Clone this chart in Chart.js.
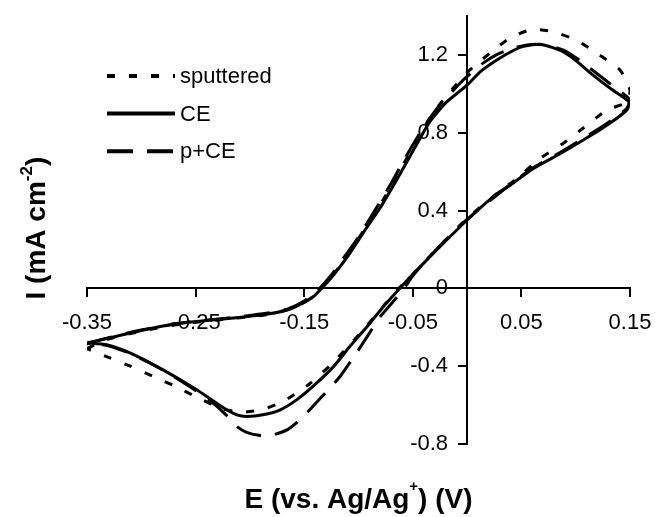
<!DOCTYPE html>
<html><head><meta charset="utf-8">
<script src="https://cdn.jsdelivr.net/npm/chart.js@4"></script>
<style>html,body{margin:0;padding:0;background:#fff}canvas{display:block}</style>
</head><body>
<canvas id="c" width="655" height="517"></canvas>
<script>
const seriesNames = ['sputtered', 'CE', 'p+CE'];

const sputteredE = [-0.350,-0.335,-0.300,-0.260,-0.220,-0.185,-0.160,-0.145,-0.135,-0.122,-0.108,-0.094,-0.080,-0.065,-0.050,-0.034,-0.019,0.000,0.021,0.040,0.060,0.079,0.101,0.122,0.141,0.150,0.148,0.129,0.107,0.089,0.067,0.046,0.030,0.000,-0.031,-0.052,-0.063,-0.077,-0.092,-0.108,-0.125,-0.145,-0.169,-0.189,-0.205,-0.225,-0.250,-0.270,-0.290,-0.310,-0.329,-0.350];
const sputteredI = [-0.310,-0.268,-0.220,-0.180,-0.157,-0.135,-0.100,-0.055,0.000,0.080,0.185,0.310,0.430,0.575,0.725,0.880,0.990,1.110,1.210,1.290,1.332,1.320,1.276,1.200,1.122,1.020,0.960,0.918,0.825,0.748,0.668,0.566,0.500,0.360,0.185,0.060,0.000,-0.090,-0.190,-0.290,-0.390,-0.490,-0.580,-0.624,-0.635,-0.620,-0.556,-0.500,-0.450,-0.400,-0.357,-0.310];

const ceE = [-0.350,-0.335,-0.320,-0.300,-0.280,-0.260,-0.240,-0.220,-0.200,-0.185,-0.170,-0.160,-0.150,-0.142,-0.134,-0.123,-0.110,-0.094,-0.080,-0.065,-0.050,-0.034,-0.019,0.000,0.012,0.027,0.043,0.052,0.067,0.079,0.090,0.101,0.116,0.132,0.149,0.147,0.129,0.107,0.086,0.061,0.040,0.027,0.000,-0.031,-0.052,-0.062,-0.077,-0.092,-0.108,-0.123,-0.142,-0.157,-0.172,-0.188,-0.203,-0.212,-0.224,-0.249,-0.280,-0.310,-0.332,-0.350];
const ceI = [-0.280,-0.262,-0.242,-0.216,-0.193,-0.177,-0.165,-0.155,-0.143,-0.133,-0.117,-0.100,-0.070,-0.044,0.000,0.069,0.165,0.300,0.415,0.557,0.705,0.860,0.958,1.045,1.114,1.174,1.225,1.245,1.256,1.238,1.212,1.168,1.097,1.028,0.960,0.917,0.840,0.763,0.694,0.617,0.532,0.485,0.352,0.181,0.061,0.000,-0.093,-0.196,-0.299,-0.402,-0.504,-0.573,-0.624,-0.650,-0.658,-0.650,-0.615,-0.521,-0.419,-0.333,-0.290,-0.280];

const pceE = [-0.350,-0.335,-0.300,-0.260,-0.220,-0.185,-0.165,-0.150,-0.140,-0.136,-0.125,-0.112,-0.100,-0.085,-0.070,-0.055,-0.040,-0.025,-0.010,0.000,0.015,0.030,0.045,0.060,0.075,0.090,0.105,0.120,0.135,0.150,0.147,0.129,0.107,0.086,0.061,0.040,0.000,-0.031,-0.050,-0.058,-0.070,-0.080,-0.092,-0.102,-0.117,-0.131,-0.151,-0.165,-0.180,-0.192,-0.203,-0.212,-0.222,-0.235,-0.250,-0.280,-0.310,-0.332,-0.350];
const pceI = [-0.285,-0.260,-0.214,-0.175,-0.152,-0.128,-0.105,-0.065,-0.020,0.000,0.070,0.170,0.265,0.400,0.540,0.690,0.830,0.945,1.035,1.090,1.160,1.210,1.240,1.255,1.250,1.222,1.168,1.103,1.038,0.970,0.925,0.850,0.772,0.700,0.622,0.536,0.355,0.185,0.065,0.000,-0.080,-0.145,-0.248,-0.333,-0.453,-0.540,-0.660,-0.725,-0.755,-0.755,-0.740,-0.710,-0.650,-0.585,-0.525,-0.420,-0.335,-0.292,-0.285];

const xTickValues = [-0.35, -0.25, -0.15, -0.05, 0.05, 0.15];
const xTickLabels = ['-0.35', '-0.25', '-0.15', '-0.05', '0.05', '0.15'];
const yTickValues = [-0.8, -0.4, 0, 0.4, 0.8, 1.2];
const yTickLabels = ['-0.8', '-0.4', '0', '0.4', '0.8', '1.2'];

const xTitleParts = [['E (vs. Ag/Ag', false], ['+', true], [') (V)', false]];
const yTitleParts = [['I (mA cm', false], ['-2', true], [')', false]];

const X_MIN = -0.35, X_MAX = 0.15, Y_MIN = -0.8, Y_MAX = 1.4;
const FONT = '"Liberation Sans", Arial, Helvetica, sans-serif';
const Y_LABEL_AT = -0.0175;   // E value where the y tick labels end (right edge)
const TARGET = {left: 87, right: 630, top: 16, bottom: 444};
const toPts = (E, I) => E.map((e, k) => ({x: e, y: I[k]}));

function drawRich(ctx, parts, size, supSize, rise) {
  const widths = parts.map(([t, s]) => { ctx.font = `bold ${s ? supSize : size}px ${FONT}`; return ctx.measureText(t).width; });
  const total = widths.reduce((a, b) => a + b, 0);
  let x = -total / 2;
  parts.forEach(([t, s], i) => {
    ctx.font = `bold ${s ? supSize : size}px ${FONT}`;
    ctx.fillText(t, x, s ? -rise : 0);
    x += widths[i];
  });
}

const decor = {
  id: 'decor',
  afterDraw(chart) {
    const {ctx} = chart;
    const sx = chart.scales.x, sy = chart.scales.y;
    const cx = (sx.getPixelForValue(X_MIN) + sx.getPixelForValue(X_MAX)) / 2;
    const cy = (sy.getPixelForValue(Y_MIN) + sy.getPixelForValue(Y_MAX)) / 2;
    ctx.save();
    ctx.fillStyle = '#000';
    ctx.textAlign = 'left';
    ctx.textBaseline = 'alphabetic';
    ctx.save();
    ctx.translate(cx, 508);
    drawRich(ctx, xTitleParts, 28, 15, 17);
    ctx.restore();
    ctx.save();
    ctx.translate(45, cy - 2);
    ctx.rotate(-Math.PI / 2);
    drawRich(ctx, yTitleParts, 28, 17, 13);
    ctx.restore();
    chart.data.datasets.forEach((ds, i) => {
      const y = 76 + i * 37.6;
      ctx.beginPath();
      ctx.setLineDash(ds.borderDash || []);
      ctx.lineWidth = 4;
      ctx.lineCap = 'butt';
      ctx.strokeStyle = '#000';
      ctx.moveTo(107, y);
      ctx.lineTo(175, y);
      ctx.stroke();
      ctx.setLineDash([]);
      ctx.font = `22px ${FONT}`;
      ctx.fillText(ds.label, 180, y + 7);
    });
    ctx.restore();
  }
};

const gridStyle = {drawOnChartArea: false, drawTicks: true, tickLength: 8, color: '#000', lineWidth: 2};
const tickFont = {size: 22, family: FONT};

const chart = new Chart(document.getElementById('c'), {
  type: 'scatter',
  data: {
    datasets: [
      {label: seriesNames[0], data: toPts(sputteredE, sputteredI), borderDash: [8, 14]},
      {label: seriesNames[1], data: toPts(ceE, ceI), borderDash: []},
      {label: seriesNames[2], data: toPts(pceE, pceI), borderDash: [26, 14]},
    ].map(d => Object.assign(d, {showLine: true, borderColor: '#000', backgroundColor: '#000', borderWidth: 3, pointRadius: 0, tension: 0.2, fill: false}))
  },
  options: {
    responsive: false,
    animation: false,
    layout: {padding: {left: 87, right: 25, top: 16, bottom: 73}},
    plugins: {legend: {display: false}, tooltip: {enabled: false}},
    scales: {
      x: {
        type: 'linear', min: X_MIN, max: X_MAX,
        position: {y: 0},
        grid: gridStyle,
        border: {display: true, color: '#000', width: 2},
        afterBuildTicks: a => { a.ticks = xTickValues.map(v => ({value: v})); },
        ticks: {autoSkip: false, maxRotation: 0, color: '#000', padding: 0,
          font: {size: 22, family: FONT, lineHeight: 2.41},
          callback: (v, i) => xTickLabels[i]}
      },
      y: {
        type: 'linear', min: Y_MIN, max: Y_MAX,
        position: {x: 0},
        grid: gridStyle,
        border: {display: true, color: '#000', width: 2},
        afterBuildTicks: a => { a.ticks = yTickValues.map(v => ({value: v})); },
        ticks: {autoSkip: false, color: '#000', font: tickFont, callback: () => ''}
      },
      yLabels: {
        type: 'linear', axis: 'y', min: Y_MIN, max: Y_MAX,
        position: {x: Y_LABEL_AT},
        grid: {display: false, drawTicks: false, drawOnChartArea: false},
        border: {display: false},
        afterBuildTicks: a => { a.ticks = yTickValues.map(v => ({value: v})); },
        ticks: {autoSkip: false, color: '#000', padding: 0, font: tickFont,
          callback: (v, i) => yTickLabels[i]}
      }
    }
  },
  plugins: [decor]
});

// layout correction so the axes' ends land where the reference has them
for (let k = 0; k < 4; k++) {
  const sx = chart.scales.x, sy = chart.scales.y;
  const p = chart.options.layout.padding;
  const dl = TARGET.left - sx.getPixelForValue(X_MIN);
  const dr = sx.getPixelForValue(X_MAX) - TARGET.right;
  const dt = TARGET.top - sy.getPixelForValue(Y_MAX);
  const db = sy.getPixelForValue(Y_MIN) - TARGET.bottom;
  if (Math.abs(dl) + Math.abs(dr) + Math.abs(dt) + Math.abs(db) < 0.5) break;
  p.left += dl; p.right += dr; p.top += dt; p.bottom += db;
  chart.update();
}
</script>
</body></html>
